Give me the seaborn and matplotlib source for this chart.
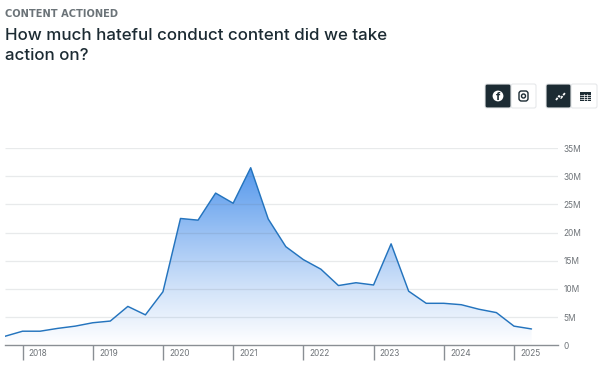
import numpy as np
import pandas as pd
import matplotlib
matplotlib.use('Agg')
import matplotlib.pyplot as plt
from matplotlib.patches import FancyBboxPatch, Circle, Rectangle
from matplotlib.colors import LinearSegmentedColormap
import seaborn as sns

# quarterly values, Q4 2017 to Q2 2025, in millions
quarters = ['2017Q4',
            '2018Q1', '2018Q2', '2018Q3', '2018Q4',
            '2019Q1', '2019Q2', '2019Q3', '2019Q4',
            '2020Q1', '2020Q2', '2020Q3', '2020Q4',
            '2021Q1', '2021Q2', '2021Q3', '2021Q4',
            '2022Q1', '2022Q2', '2022Q3', '2022Q4',
            '2023Q1', '2023Q2', '2023Q3', '2023Q4',
            '2024Q1', '2024Q2', '2024Q3', '2024Q4',
            '2025Q1', '2025Q2']
actioned = [1.6,
            2.5, 2.5, 3.0, 3.4,
            4.0, 4.3, 6.9, 5.4,
            9.5, 22.5, 22.2, 27.0,
            25.2, 31.5, 22.4, 17.5,
            15.2, 13.5, 10.6, 11.1,
            10.7, 18.0, 9.6, 7.45,
            7.45, 7.2, 6.4, 5.8,
            3.4, 2.9]
year_labels = ['2018', '2019', '2020', '2021', '2022', '2023', '2024', '2025']
y_ticks = [0, 5, 10, 15, 20, 25, 30, 35]
y_labels = ['0', '5M', '10M', '15M', '20M', '25M', '30M', '35M']

W, H = 600, 382
LINE = '#2474BE'
TICK = '#8A8F94'
LABEL = '#6F7479'
DARK = '#1C2B33'

sns.set_theme(style='white')
plt.rcParams['font.family'] = ['Inter', 'DejaVu Sans']

df = pd.DataFrame({'quarter': quarters, 'value': actioned})
df['pos'] = np.arange(len(df))

fig = plt.figure(figsize=(W / 100, H / 100), dpi=100, facecolor='white')

# chart area in pixels: x 5..558, y 148..345
left, right, top, bottom = 5, 558, 148, 345.3
ax = fig.add_axes([left / W, 1 - bottom / H, (right - left) / W, (bottom - top) / H])
ax.set_facecolor('none')

# gradient under the line
cmap = LinearSegmentedColormap.from_list('fade', ['#FFFFFF', '#CFE1F9', '#93BDF3', '#5598EC'])
poly = ax.fill_between(df['pos'], df['value'], 0, color='none', lw=0)
img = ax.imshow(np.linspace(0, 1, 256).reshape(-1, 1), origin='lower', aspect='auto', cmap=cmap,
                extent=[0, 30, 0, 31.5], zorder=1)
img.set_clip_path(poly.get_paths()[0], transform=ax.transData)

ax.hlines(y_ticks[1:], 0, 1, transform=ax.get_yaxis_transform(), color='#5F6B78', alpha=0.14,
          lw=0.9, zorder=2)
sns.lineplot(data=df, x='pos', y='value', color=LINE, lw=1.05, ax=ax, zorder=3)

ax.set_xlim(0, (right - left) / 17.55)
ax.set_ylim(0, 35)
ax.set_xlabel('')
ax.set_ylabel('')
sns.despine(ax=ax, left=True, top=True, right=True)
ax.spines['bottom'].set_color(TICK)
ax.spines['bottom'].set_linewidth(1)

year_pos = [df.index[df['quarter'] == y + 'Q1'][0] for y in year_labels]
ax.set_xticks(year_pos)
ax.set_xticklabels([])
ax.tick_params(axis='x', length=10.5, width=1, color=TICK, bottom=True)
for p, lab in zip(year_pos, year_labels):
    ax.annotate(lab, (p, 0), xycoords=ax.get_xaxis_transform(), xytext=(4.5, -5.6),
                textcoords='offset points', fontsize=6, color=LABEL, va='center', ha='left')

ax.yaxis.tick_right()
ax.set_yticks(y_ticks)
ax.set_yticklabels(y_labels, fontsize=6, color=LABEL)
ax.tick_params(axis='y', length=0, pad=4.2, right=False)

# page furniture, drawn in pixel coordinates
ui = fig.add_axes([0, 0, 1, 1], zorder=5)
ui.set_xlim(0, W)
ui.set_ylim(H, 0)
ui.axis('off')
ui.patch.set_alpha(0)

ui.text(5, 14, 'CONTENT ACTIONED', fontsize=7.1, color='#6B7378', fontweight='bold',
        family='DejaVu Sans', va='center')
ui.text(5, 35.5, 'How much hateful conduct content did we take', fontsize=12.2, color=DARK,
        fontweight='medium', va='center')
ui.text(5, 55, 'action on?', fontsize=12.2, color=DARK, fontweight='medium', va='center')


def button(x0, x1, y0, y1, fc):
    ui.add_patch(FancyBboxPatch((x0 + 2, y0 + 2), x1 - x0 - 4, y1 - y0 - 4,
                                boxstyle='round,pad=2,rounding_size=2', fc=fc, ec='#E6E8EA', lw=0.8))


button(511, 536, 84, 108, 'white')
button(485, 511, 84, 108, DARK)
button(571, 597, 84, 108, 'white')
button(546, 571, 84, 108, DARK)

# facebook icon
ui.add_patch(Circle((498, 96), 5.4, fc='white', ec='none'))
ui.text(498.6, 97.2, 'f', fontsize=8, color=DARK, fontweight='bold', ha='center', va='center')
# instagram icon
ui.add_patch(FancyBboxPatch((520, 92), 7, 8, boxstyle='round,pad=1,rounding_size=2.5',
                            fc='none', ec=DARK, lw=1))
ui.add_patch(Circle((523.5, 96), 2, fc='none', ec=DARK, lw=1))
# line chart icon
ui.plot([556, 559, 561, 565], [100, 96, 98, 93], color='white', lw=1.3, ls=(0, (1.5, 0.6)))
# table icon
ui.add_patch(Rectangle((580, 91.5), 10.5, 9.5, fc=DARK, ec='none'))
for yy in [94.5, 96.5, 98.5]:
    ui.plot([580, 590.5], [yy, yy], color='white', lw=0.5)
for xx in [583.5, 587]:
    ui.plot([xx, xx], [94, 101], color='white', lw=0.5)

fig.savefig('out.png', dpi=100)
